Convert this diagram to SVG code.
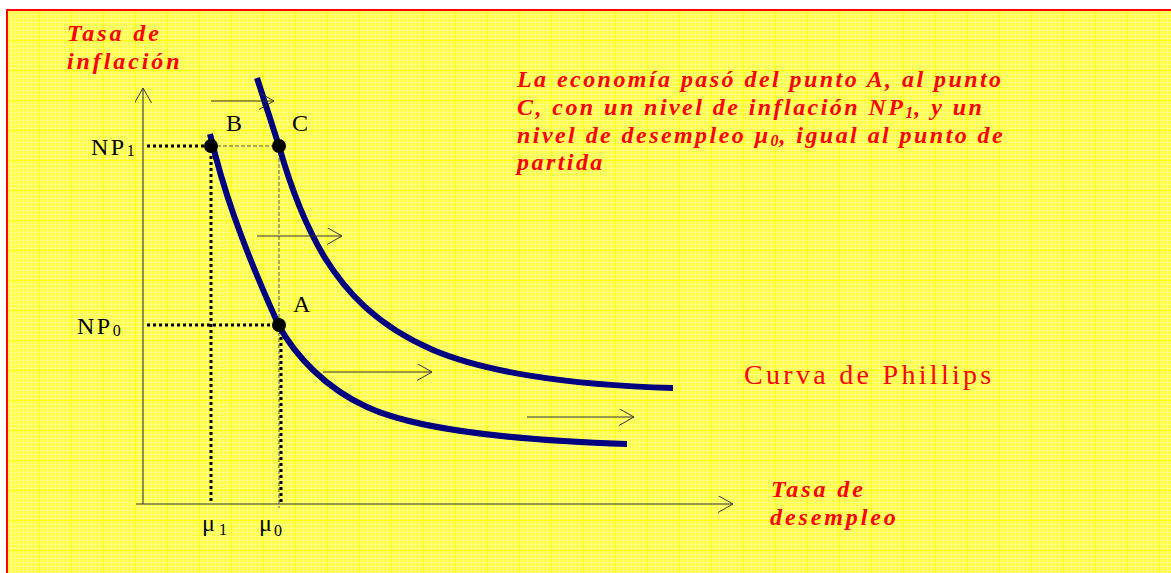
<svg xmlns="http://www.w3.org/2000/svg" width="1171" height="573" viewBox="0 0 1171 573">
  <defs>
    <pattern id="fine" width="4" height="4" patternUnits="userSpaceOnUse">
      <rect width="4" height="4" fill="#FFFF48"/>
      <path d="M0,0.5 H4 M0.5,0 V4" stroke="#FFFF82" stroke-width="1"/>
    </pattern>
    <pattern id="major" x="7" y="10" width="32" height="30" patternUnits="userSpaceOnUse">
      <rect width="32" height="30" fill="url(#fine)"/>
      <path d="M0,0.5 H32 M0.5,0 V30" stroke="#FFFF10" stroke-width="1"/>
    </pattern>
    <marker id="open" markerWidth="17" markerHeight="19" refX="15" refY="8.5" orient="auto" markerUnits="userSpaceOnUse">
      <path d="M0,0 L15,8.5 L0,17" fill="none" stroke="#333" stroke-width="1"/>
    </marker>
    <style>
      .red { fill: #FF0000; font-family: "Liberation Serif", "Times New Roman", serif; }
      .lbl { font-style: italic; font-weight: bold; font-size: 24px; letter-spacing: 2.9px; }
      .para { font-style: italic; font-weight: bold; font-size: 24px; letter-spacing: 2.44px; }
      .blk { fill: #000; font-family: "Liberation Serif", "Times New Roman", serif; font-size: 24px; }
      .curve { fill: none; stroke: #000080; stroke-width: 6; stroke-linecap: butt; }
      .thin { fill: none; stroke: #333; stroke-width: 1.1; }
      .dots { fill: none; stroke: #000; stroke-width: 3; stroke-dasharray: 3 3; }
      .dash { fill: none; stroke: #555; stroke-width: 1; stroke-dasharray: 4 2; }
      .pt { fill: #000; }
    </style>
  </defs>

  <rect x="0" y="0" width="1171" height="573" fill="#FFFFFF"/>
  <rect x="7" y="10" width="1170" height="570" fill="url(#major)" stroke="#FF0000" stroke-width="2"/>

  <g id="connectors">
    <!-- axes -->
    <line class="thin" x1="143" y1="504" x2="143" y2="88" marker-end="url(#open)"/>
    <line class="thin" x1="136" y1="504" x2="733" y2="504" marker-end="url(#open)"/>
    <!-- guide lines -->
    <line class="dash" x1="211" y1="146" x2="279" y2="146"/>
    <line class="dash" x1="279" y1="146" x2="279" y2="508"/>
    <line class="dots" x1="147" y1="146" x2="206" y2="146"/>
    <line class="dots" x1="211" y1="150" x2="211" y2="504"/>
    <line class="dots" x1="147" y1="325" x2="273" y2="325"/>
    <line class="dots" x1="281" y1="331" x2="281" y2="504"/>
    <!-- Phillips curves -->
    <path id="curve-lower" class="curve" d="M210,134 C222,185 240,240 279,326 C295,355 325,388 367,407 C410,427 500,440 627,444"/>
    <path id="curve-upper" class="curve" d="M257,78 L279,146 C290,185 305,225 325,258 C345,290 375,325 433,350 C480,370 560,385 673,388"/>
    <!-- shift arrows -->
    <line class="thin" x1="211" y1="101" x2="274" y2="101" marker-end="url(#open)"/>
    <line class="thin" x1="257" y1="236" x2="342" y2="236" marker-end="url(#open)"/>
    <line class="thin" x1="323" y1="372" x2="432" y2="372" marker-end="url(#open)"/>
    <line class="thin" x1="527" y1="417" x2="634" y2="417" marker-end="url(#open)"/>
  </g>

  <g id="point-B">
    <circle class="pt" cx="211" cy="146" r="7"/>
    <text class="blk" x="226" y="131">B</text>
  </g>
  <g id="point-C">
    <circle class="pt" cx="279" cy="146" r="7"/>
    <text class="blk" x="292" y="131">C</text>
  </g>
  <g id="point-A">
    <circle class="pt" cx="279" cy="325" r="7"/>
    <text class="blk" x="293" y="312">A</text>
  </g>

  <g id="label-NP1">
    <text class="blk" x="91" y="155" letter-spacing="2.5">NP<tspan font-size="16" dy="1" letter-spacing="0">1</tspan></text>
  </g>
  <g id="label-NP0">
    <text class="blk" x="77" y="334" letter-spacing="2.5">NP<tspan font-size="16" dy="2" letter-spacing="0">0</tspan></text>
  </g>
  <g id="label-mu1">
    <text class="blk" x="202" y="531" font-size="26">μ<tspan font-size="16" dy="4" dx="4">1</tspan></text>
  </g>
  <g id="label-mu0">
    <text class="blk" x="259" y="531" font-size="26">μ<tspan font-size="16" dy="5" dx="2">0</tspan></text>
  </g>

  <g id="y-axis-title">
    <text class="red lbl" x="67" y="41">Tasa de</text>
    <text class="red lbl" x="67" y="69">inflación</text>
  </g>
  <g id="x-axis-title">
    <text class="red lbl" x="771" y="497">Tasa de</text>
    <text class="red lbl" x="770" y="525">desempleo</text>
  </g>
  <g id="curve-title">
    <text class="red" x="744" y="384" font-size="28" letter-spacing="3.3">Curva de Phillips</text>
  </g>
  <g id="explanation">
    <text class="red para" x="517" y="87">La economía pasó del punto A, al punto</text>
    <text class="red para" x="517" y="115">C, con un nivel de inflación NP<tspan font-size="16" dy="3" letter-spacing="1">1</tspan><tspan dy="-3">, y un</tspan></text>
    <text class="red para" x="517" y="143">nivel de desempleo μ<tspan font-size="16" dy="3" letter-spacing="1">0</tspan><tspan dy="-3">, igual al punto de</tspan></text>
    <text class="red para" x="517" y="170">partida</text>
  </g>
</svg>
